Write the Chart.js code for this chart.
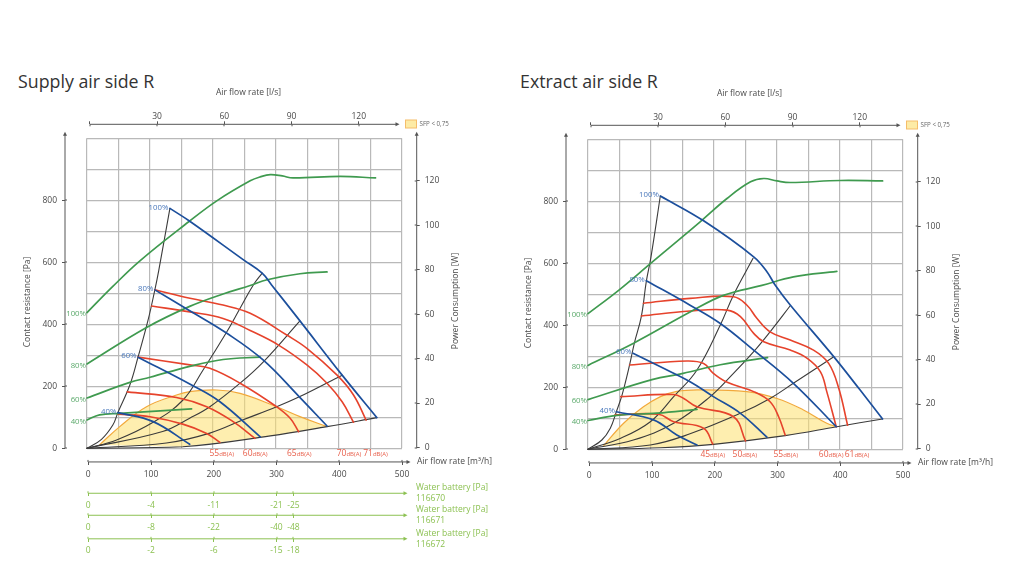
<!DOCTYPE html>
<html>
<head>
<meta charset="utf-8">
<title>Supply and extract air side R</title>
<script src="https://cdn.jsdelivr.net/npm/chart.js@4"></script>
<style>
  html, body { margin: 0; padding: 0; background: #fff; }
  body { width: 1024px; height: 576px; position: relative; overflow: hidden; font-family: "Open Sans", sans-serif; }
  canvas { position: absolute; }
  #supplyChart { left: 0; top: 0; }
  #extractChart { left: 501px; top: 1px; }
  .heading { position: absolute; font-size: 17.8px; line-height: 24px; color: #333; }
</style>
</head>
<body>
<div class="heading" style="left:18px;top:69px">Supply air side R</div>
<div class="heading" style="left:520px;top:69px">Extract air side R</div>
<canvas id="supplyChart" width="512" height="576"></canvas>
<canvas id="extractChart" width="512" height="576"></canvas>
<script>
// Axis ticks
const flowTicks = [0, 100, 200, 300, 400, 500];
const litreTicks = [0, 30, 60, 90, 120];
const pressureTicks = [0, 200, 400, 600, 800];
const powerTicks = [0, 20, 40, 60, 80, 100, 120];
const fanLabels = ['100%', '80%', '60%', '40%'];

// Water battery scales (left panel only)
const batteryFlow = [0, 100, 200, 300, 327];
const battery116670 = [0, -4, -11, -21, -25];
const battery116671 = [0, -8, -22, -40, -48];
const battery116672 = [0, -2, -6, -15, -18];
const batteryNames = ['116670', '116671', '116672'];

// Supply: power curves, [m3/h, W]
const supplyPower100 = [[0, 60.7], [41, 72.5], [84, 84], [162, 101.7], [206, 111], [259, 120], [275, 121.8], [291, 122.8], [310, 122.2], [327, 121.3], [402, 122], [458, 121.3]];
const supplyPower80 = [[0, 37.6], [94.5, 54], [163, 63.5], [216, 69.1], [259, 72.9], [286, 75.5], [338, 78.2], [381, 79]];
const supplyPower60 = [[0, 22.3], [68, 29.3], [100, 31.6], [163, 36.5], [216, 39.6], [275, 40.7]];
const supplyPower40 = [[0, 12.4], [20, 14.7], [52, 15.4], [116, 16.5], [166, 17.4]];

// Supply: fan curves, [m3/h, Pa]
const supplyFan100 = [[131.6, 774], [162, 734], [249, 607], [278, 565], [293, 527], [338, 411], [405, 236], [460, 99]];
const supplyFan80 = [[107.7, 511], [163, 444], [222, 371], [279.5, 285], [337, 166], [381, 72]];
const supplyFan60 = [[81, 294], [166, 204], [211, 150], [275, 37]];
const supplyFan40 = [[49, 115], [105, 86], [163, 13]];

// Supply: system curves
const supplySystem1 = [[0, 0], [23, 29], [41, 75], [49, 115], [68, 204], [81, 294], [97, 414], [107.7, 511], [114, 575], [131.6, 774]];
const supplySystem2 = [[0, 0], [47, 27], [105, 84], [152, 155], [184, 252], [222, 376], [243, 452], [264, 527], [278, 565]];
const supplySystem3 = [[0, 0], [120, 54], [163, 97], [195, 134], [243, 210], [280, 279], [338, 411]];
const supplySystem4 = [[0, 0], [126, 17], [195, 49], [248, 92], [301, 134], [337, 166], [405, 236]];
const supplySystem5 = [[0, 0], [152, 5], [291, 40], [381, 70], [460, 99]];

// Supply: sound curves
const supplySound55 = [[49, 110], [100, 102], [152, 78], [190, 48], [211, 19]];
const supplySound60 = [[64, 182], [142, 164], [190, 134], [232, 86], [266.7, 32]];
const supplySound65 = [[81, 294], [163.4, 269], [195, 258], [243, 210], [301, 134], [322.5, 97], [336, 53.5]];
const supplySound70 = [[102.5, 459], [163.4, 440], [216, 419], [259, 380], [304, 333], [349, 269], [381, 210], [405, 150], [423, 84]];
const supplySound71 = [[107.7, 511], [163.4, 484], [216, 462], [259, 435.5], [317, 365.5], [349, 322.6], [397, 236], [423, 172], [443, 91]];
const supplySoundLabels = ['55', '60', '65', '70', '71'];
const supplySoundFlow = [213, 266, 336, 415, 457];

// Supply: SFP area upper edge
const supplySfp = [[20, 11], [52, 70], [94.5, 134], [142, 172], [163, 183], [206, 188], [243, 177], [301, 134], [338, 102], [381, 70]];

// Extract: power curves
const extractPower100 = [[0, 60.7], [48.6, 71.2], [99, 83.2], [178, 102], [220.6, 112.5], [258, 120], [279, 121.5], [300, 120.4], [321, 119.7], [400.5, 120.6], [467.6, 120.4]];
const extractPower80 = [[0, 37.4], [72.4, 47.4], [162, 61.4], [215, 68.9], [276, 73.4], [326, 77.2], [395, 79.7]];
const extractPower60 = [[0, 22], [101.6, 31], [151, 33.8], [210, 37.7], [285, 40.9]];
const extractPower40 = [[0, 12.6], [46, 14.9], [109.5, 15.9], [173, 17.6]];

// Extract: fan curves
const extractFan100 = [[114.8, 817], [183.5, 737], [263, 621], [284, 573], [297, 530], [321, 465.5], [390, 299], [432, 191], [467.6, 98]];
const extractFan80 = [[92.5, 544], [162, 465], [210, 406], [263, 320], [326, 213], [394, 73]];
const extractFan60 = [[71.4, 310], [115, 266], [162, 218], [199, 170], [242, 116], [284, 39]];
const extractFan40 = [[45, 121], [104, 95], [141, 46], [173, 14]];

// Extract: system curves
const extractSystem1 = [[0, 0], [22, 30], [35.4, 68], [45, 121], [54, 175], [66, 272], [73.5, 342], [84.6, 428], [92.5, 541], [100, 621], [114.8, 817]];
const extractSystem2 = [[0, 0], [51, 35], [99, 89], [136, 170], [173, 256], [210, 401], [231, 498], [262, 616]];
const extractSystem3 = [[0, 0], [72, 30], [136, 84], [194, 170], [228.6, 240], [263, 315], [289, 379], [321, 463]];
const extractSystem4 = [[0, 0], [99, 14], [162, 50], [242, 116], [289, 164], [326, 213], [389, 297]];
const extractSystem5 = [[0, 0], [115, 5], [199, 16], [313, 44], [395, 73], [467.6, 98]];

// Extract: sound curves
const extractSound45 = [[43, 111], [112, 113], [136, 89], [183.5, 68], [198, 17]];
const extractSound50 = [[52, 170], [136, 177], [152, 164], [173, 137], [231, 105], [250, 27]];
const extractSound55 = [[66, 272], [157, 285], [183.5, 277], [199, 245], [221, 216], [263, 186], [289, 153.5], [302.6, 105], [313, 46]];
const extractSound60 = [[84.6, 430], [162, 446], [221, 449], [242, 428], [263, 374], [279, 347], [321, 320], [348, 293.5], [369, 250], [379, 186], [394, 73]];
const extractSound61 = [[88, 471], [162, 487], [231, 492], [252, 465.5], [268, 422.6], [289, 379], [321, 352.6], [358, 320], [382, 277], [398, 197], [412, 78]];
const extractSoundLabels = ['45', '50', '55', '60', '61'];
const extractSoundFlow = [197, 248, 313, 385, 426];

// Extract: SFP area upper edge
const extractSfp = [[25, 12], [56.5, 84], [88, 137], [115, 170], [141, 187], [175, 192], [252, 186], [300, 164], [342, 127], [379, 84], [395, 73]];

const gridColor = '#b9b9b9';
const textColor = '#4a4a4a';
const axisColor = '#555';
const powerColor = '#3f9a4f';
const fanColor = '#1c4f9c';
const systemColor = '#3b3b3b';
const soundColor = '#e6432c';
const sfpEdge = '#f2a93b';
const sfpFill = 'rgba(253, 224, 110, 0.55)';
const batteryColor = '#8cc152';

Chart.defaults.font.family = '"Open Sans", sans-serif';
Chart.defaults.font.size = 8.5;
Chart.defaults.color = textColor;

const noHeight = s => { s.height = 0; };
const noWidth = s => { s.width = 0; };

function curve(points, color, width, yAxisID) {
  return {
    data: points,
    borderColor: color,
    borderWidth: width,
    yAxisID: yAxisID || 'y',
    showLine: true,
    pointRadius: 0,
    tension: 0.4,
    borderCapStyle: 'round',
    clip: false
  };
}

// tick-only axis, the axis line is drawn with its arrow by the plugin below
function axisScale(position, min, max, tickValues, color, labels) {
  return {
    type: 'linear',
    position: position,
    min: min,
    max: max,
    border: { display: false },
    grid: { drawOnChartArea: false, tickLength: 3, tickColor: color, lineWidth: 1 },
    ticks: {
      color: color === axisColor ? textColor : color,
      padding: 5,
      autoSkip: false,
      maxRotation: 0,
      minRotation: 0,
      callback: (v, i) => (labels ? labels[i] : v)
    },
    afterBuildTicks: s => { s.ticks = tickValues.map(v => ({ value: v })); }
  };
}

function arrow(ctx, x1, y1, x2, y2, color) {
  const angle = Math.atan2(y2 - y1, x2 - x1);
  ctx.save();
  ctx.strokeStyle = color;
  ctx.fillStyle = color;
  ctx.lineWidth = 1;
  ctx.beginPath();
  ctx.moveTo(x1, y1);
  ctx.lineTo(x2, y2);
  ctx.stroke();
  ctx.translate(x2, y2);
  ctx.rotate(angle);
  ctx.beginPath();
  ctx.moveTo(2.5, 0);
  ctx.lineTo(-1.5, -2);
  ctx.lineTo(-1.5, 2);
  ctx.closePath();
  ctx.fill();
  ctx.restore();
}

// tick marks only point outwards in Chart.js, this adds the inner half
function innerTicks(ctx, scale, at, dir, color) {
  ctx.save();
  ctx.strokeStyle = color;
  ctx.lineWidth = 1;
  scale.ticks.forEach(t => {
    const p = Math.round(scale.getPixelForValue(t.value));
    ctx.beginPath();
    if (scale.isHorizontal()) {
      ctx.moveTo(p, at);
      ctx.lineTo(p, at + 2 * dir);
    } else {
      ctx.moveTo(at, p);
      ctx.lineTo(at + 2 * dir, p);
    }
    ctx.stroke();
  });
  ctx.restore();
}

function label(ctx, str, x, y, color, size, align, turned) {
  ctx.save();
  ctx.font = size + 'px "Open Sans", sans-serif';
  ctx.fillStyle = color;
  ctx.textAlign = align || 'left';
  ctx.textBaseline = 'middle';
  ctx.translate(x, y);
  if (turned) ctx.rotate(-Math.PI / 2);
  ctx.fillText(str, 0, 0);
  ctx.restore();
}

function buildChart(canvasId, power, fans, systems, sounds, sfpTop, soundLabels, soundFlow, batteries) {
  const lowerEdge = systems[4].filter(p => p[0] >= sfpTop[0][0] && p[0] <= sfpTop[sfpTop.length - 1][0]).reverse();
  const sfpShape = sfpTop.concat(lowerEdge);

  const datasets = [];
  fans.forEach(points => datasets.push(curve(points, fanColor, 1.7)));
  power.forEach(points => datasets.push(curve(points, powerColor, 1.7, 'yPower')));
  sounds.forEach(points => datasets.push(curve(points, soundColor, 1.6)));
  systems.forEach(points => datasets.push(curve(points, systemColor, 1.1)));
  datasets.push(curve(sfpTop, sfpEdge, 1.2));
  datasets.push(Object.assign(curve(sfpShape, 'transparent', 0), { fill: 'shape', backgroundColor: sfpFill, tension: 0.1 }));

  const scales = {
    x: {
      type: 'linear', position: 'bottom', min: 0, max: 500, afterFit: noHeight,
      border: { display: false },
      grid: { color: gridColor, lineWidth: 1.2, drawTicks: false },
      ticks: { display: false, stepSize: 50 }
    },
    y: {
      type: 'linear', position: 'left', min: 0, max: 1000, afterFit: noWidth,
      border: { display: false },
      grid: { color: gridColor, lineWidth: 1.2, drawTicks: false },
      ticks: { display: false, stepSize: 100 }
    },
    xFlow: Object.assign(axisScale({ y: -44 }, -2, 500, flowTicks, axisColor), { axis: 'x' }),
    xLitre: Object.assign(axisScale('top', -1.3, 139.3, litreTicks, axisColor, litreTicks.map(v => (v ? String(v) : ''))), { axis: 'x', afterFit: noHeight }),
    yPressure: Object.assign(axisScale('left', 0, 1000, pressureTicks, axisColor), { axis: 'y', afterFit: noWidth }),
    yPower: Object.assign(axisScale('right', -0.36, 139.15, powerTicks, axisColor), { axis: 'y', afterFit: noWidth })
  };
  scales.xLitre.ticks.padding = 0;

  const batteryOffsets = [145, 216, 292];
  batteries.forEach((values, i) => {
    const scale = axisScale({ y: -batteryOffsets[i] }, -2, 500, batteryFlow, batteryColor, values.map(String));
    scale.ticks.padding = 4;
    scales['xBattery' + i] = Object.assign(scale, { axis: 'x' });
  });

  const panelMarks = {
    id: 'panelMarks',
    afterLayout(chart) {
      const s = chart.scales;
      // axes sit apart from the grid box, labels get room up to the canvas edge
      s.yPressure.left = 0;
      s.yPressure.right = chart.chartArea.left - 22;
      s.yPower.left = chart.chartArea.right + 14.7;
      s.yPower.right = chart.width;
      s.xLitre.top = 0;
      s.xLitre.bottom = chart.chartArea.top - 14;
    },
    afterDraw(chart) {
      const ctx = chart.ctx;
      const s = chart.scales;
      const area = chart.chartArea;

      const pressureX = s.yPressure.right;
      const powerX = s.yPower.left;
      const litreY = s.xLitre.bottom;
      const flowY = s.y.getPixelForValue(-44);
      arrow(ctx, pressureX, area.bottom, pressureX, area.top - 4, axisColor);
      arrow(ctx, powerX, area.bottom, powerX, area.top - 4, axisColor);
      arrow(ctx, s.xFlow.getPixelForValue(0), flowY, area.right + 6, flowY, axisColor);
      arrow(ctx, s.xLitre.getPixelForValue(0), litreY, area.right - 5, litreY, axisColor);
      innerTicks(ctx, s.yPressure, pressureX, 1, axisColor);
      innerTicks(ctx, s.yPower, powerX, -1, axisColor);
      innerTicks(ctx, s.xFlow, flowY, -1, axisColor);
      innerTicks(ctx, s.xLitre, litreY, 1, axisColor);

      batteries.forEach((values, i) => {
        const y = s.y.getPixelForValue(-batteryOffsets[i]);
        arrow(ctx, s.xFlow.getPixelForValue(0), y, area.right + 3, y, batteryColor);
        innerTicks(ctx, s['xBattery' + i], y, -1, batteryColor);
        label(ctx, 'Water battery [Pa]', area.right + 14, y - 5.5, batteryColor, 8.5);
        label(ctx, batteryNames[i], area.right + 14, y + 5.5, batteryColor, 8.5);
      });

      // axis titles
      label(ctx, 'Air flow rate [l/s]', area.left + 161.5, 93, textColor, 8.5, 'center');
      label(ctx, 'Air flow rate [m³/h]', area.right + 15, 462, textColor, 8.5);
      label(ctx, 'Contact resistance [Pa]', area.left - 59, 302, textColor, 8.5, 'center', true);
      label(ctx, 'Power Consumption [W]', area.right + 54, 301, textColor, 8.5, 'center', true);

      // SFP legend
      ctx.save();
      ctx.fillStyle = '#fdeba6';
      ctx.strokeStyle = '#f5bd6a';
      ctx.lineWidth = 1;
      ctx.fillRect(area.right + 3.5, 120, 11, 8);
      ctx.strokeRect(area.right + 3.5, 120, 11, 8);
      ctx.restore();
      label(ctx, 'SFP < 0,75', area.right + 17.5, 124.5, '#666', 6.2);

      // curve labels next to the first point of each curve
      fans.forEach((points, i) => {
        const x = s.x.getPixelForValue(points[0][0]) - 1.5;
        const y = s.y.getPixelForValue(points[0][1]) - 1;
        label(ctx, fanLabels[i], x, y, '#4a78bb', 7.8, 'right');
      });
      power.forEach((points, i) => {
        const y = s.yPower.getPixelForValue(points[0][1]) + 1.5;
        label(ctx, fanLabels[i], area.left - 1, y, '#5aa96a', 7.8, 'right');
      });

      // sound levels under the grid
      soundLabels.forEach((text, i) => {
        const x = s.x.getPixelForValue(soundFlow[i]);
        const y = s.y.getPixelForValue(-18);
        label(ctx, text, x - 2, y, '#e8604c', 8.5, 'right');
        label(ctx, 'dB(A)', x - 2, y + 0.5, '#e8604c', 6);
      });
    }
  };

  return new Chart(document.getElementById(canvasId), {
    type: 'scatter',
    data: { datasets: datasets },
    options: {
      responsive: false,
      animation: false,
      layout: { padding: { left: 87, right: 110, top: 138.3, bottom: 127.7 } },
      plugins: { legend: { display: false }, tooltip: { enabled: false } },
      scales: scales
    },
    plugins: [panelMarks]
  });
}

buildChart(
  'supplyChart',
  [supplyPower100, supplyPower80, supplyPower60, supplyPower40],
  [supplyFan100, supplyFan80, supplyFan60, supplyFan40],
  [supplySystem1, supplySystem2, supplySystem3, supplySystem4, supplySystem5],
  [supplySound55, supplySound60, supplySound65, supplySound70, supplySound71],
  supplySfp, supplySoundLabels, supplySoundFlow,
  [battery116670, battery116671, battery116672]
);

buildChart(
  'extractChart',
  [extractPower100, extractPower80, extractPower60, extractPower40],
  [extractFan100, extractFan80, extractFan60, extractFan40],
  [extractSystem1, extractSystem2, extractSystem3, extractSystem4, extractSystem5],
  [extractSound45, extractSound50, extractSound55, extractSound60, extractSound61],
  extractSfp, extractSoundLabels, extractSoundFlow,
  []
);
</script>
</body>
</html>
